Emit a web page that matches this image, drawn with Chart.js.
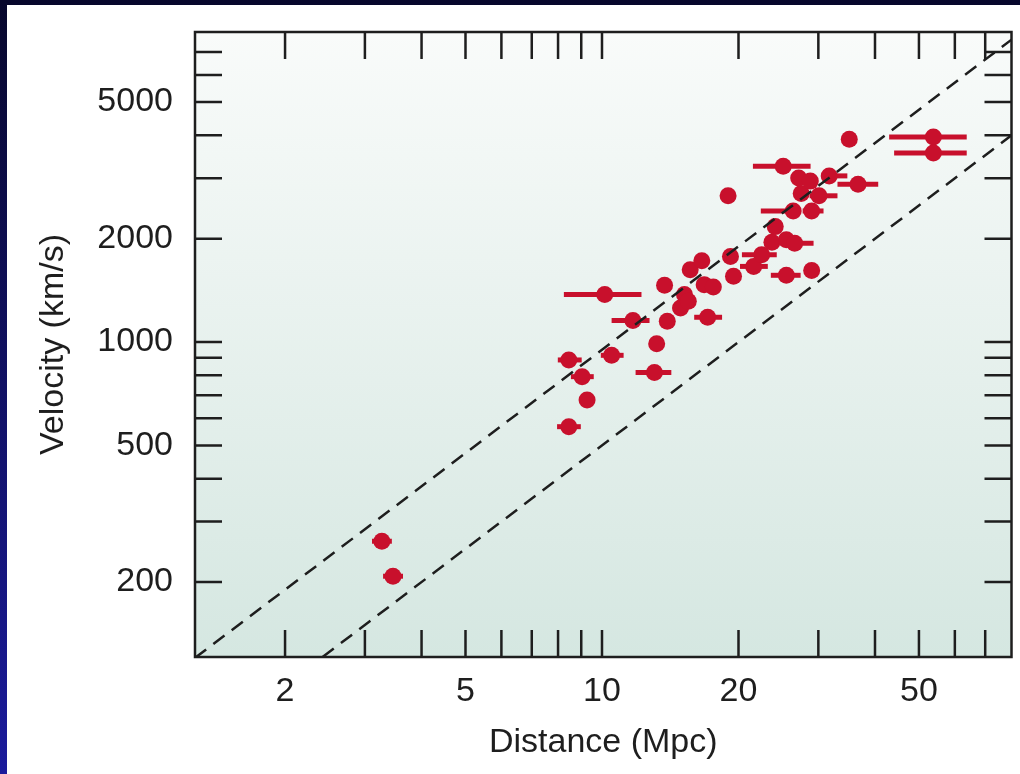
<!DOCTYPE html>
<html>
<head>
<meta charset="utf-8">
<script src="https://cdn.jsdelivr.net/npm/chart.js@4.4.1/dist/chart.umd.min.js"></script>
<style>
  html, body { margin: 0; padding: 0; }
  body {
    width: 1020px; height: 774px; overflow: hidden; position: relative;
    background: linear-gradient(#07072c, #1b1b9c);
  }
  #panel { position: absolute; left: 7px; top: 5px; width: 1013px; height: 769px; background: #fff; }
  canvas { display: block; }
</style>
</head>
<body>
<div id="panel"><canvas id="hubble" width="1013" height="769"></canvas></div>
<script>
// galaxy distances (Mpc) and recession velocities (km/s)
const distance = [3.27, 3.46, 8.45, 9.27, 9.04, 8.45, 10.5, 13.05, 13.2, 13.93,
                  11.7, 10.14, 13.74, 14.9, 15.2, 15.5, 16.8, 17.6, 17.1, 15.65,
                  16.6, 18.97, 19.2, 19.5, 21.6, 22.5, 23.7, 25.5, 26.6, 24.1,
                  25.5, 29.0, 26.4, 29.0, 27.5, 30.1, 27.15, 28.8, 31.7, 36.7,
                  25.1, 35.1, 53.8, 53.8];
const velocity = [263, 208, 567, 678, 793, 887, 915, 815, 989, 1150,
                  1156, 1375, 1463, 1257, 1375, 1315, 1470, 1446, 1181, 1624,
                  1725, 2667, 1775, 1554, 1661, 1796, 1953, 1985, 1940, 2169,
                  1565, 1617, 2409, 2409, 2709, 2667, 3007, 2943, 3048, 2884,
                  3251, 3894, 3955, 3554];
// horizontal error bar ends (null = no bar)
const distLow = [3.11, 3.29, 7.96, null, 8.54, 7.99, 9.94, 11.86, null, null,
                 10.5, 8.24, null, null, null, null, null, null, 15.97, null,
                 null, null, null, null, 20.15, 20.35, null, null, 25.16, null,
                 23.57, null, 22.4, 27.7, null, 28.7, null, null, 30.64, 33.06,
                 21.52, null, 42.98, 44.08];
const distHigh = [3.44, 3.64, 8.98, null, 9.59, 9.02, 11.16, 14.22, null, null,
                  12.73, 12.22, null, null, null, null, null, null, 18.4, null,
                  null, null, null, null, 23.21, 24.29, null, null, 29.28, null,
                  27.42, null, 27.42, 30.8, null, 33.06, null, null, 34.76, 40.66,
                  28.84, null, 63.73, 63.73];

const X_MIN = 1.266, X_MAX = 80;
const Y_MIN = 121, Y_MAX = 8000;
const xLabels = [2, 5, 10, 20, 50];
const yLabels = [200, 500, 1000, 2000, 5000];
const xMinor = [2, 3, 4, 5, 6, 7, 8, 9, 10, 20, 30, 40, 50, 60, 70];
const yMinor = [200, 300, 400, 500, 600, 700, 800, 900, 1000, 2000, 3000, 4000, 5000, 6000, 7000];
// dashed reference lines V = H * d
const hubbleUpper = 95;
const hubbleLower = 50;

const RED = '#c8102c';
const INK = '#1e1e1e';
const FONT = "'Liberation Sans', Arial, Helvetica, sans-serif";

const points = distance.map((d, i) => ({ x: d, y: velocity[i], lo: distLow[i], hi: distHigh[i] }));
const upperLine = [{ x: X_MIN, y: hubbleUpper * X_MIN }, { x: X_MAX, y: hubbleUpper * X_MAX }];
const lowerLine = [{ x: Y_MIN / hubbleLower, y: Y_MIN }, { x: X_MAX, y: hubbleLower * X_MAX }];

const panelBg = {
  id: 'panelBg',
  beforeDraw(chart) {
    const { ctx, chartArea: a } = chart;
    const g = ctx.createLinearGradient(0, a.top, 0, a.bottom);
    g.addColorStop(0, '#f9fbfa');
    g.addColorStop(1, '#d5e7e1');
    ctx.save();
    ctx.fillStyle = g;
    ctx.fillRect(a.left, a.top, a.right - a.left, a.bottom - a.top);
    ctx.restore();
  }
};

const errorBars = {
  id: 'errorBars',
  beforeDatasetDraw(chart, args) {
    if (args.index !== 2) return;
    const { ctx, scales: { x, y } } = chart;
    ctx.save();
    ctx.strokeStyle = RED;
    ctx.lineWidth = 5;
    points.forEach(p => {
      if (p.lo == null) return;
      const py = y.getPixelForValue(p.y);
      ctx.beginPath();
      ctx.moveTo(x.getPixelForValue(p.lo), py);
      ctx.lineTo(x.getPixelForValue(p.hi), py);
      ctx.stroke();
    });
    ctx.restore();
  }
};

const frameTicks = {
  id: 'frameTicks',
  afterDatasetsDraw(chart) {
    const { ctx, chartArea: a, scales: { x, y } } = chart;
    const len = 27;
    ctx.save();
    ctx.strokeStyle = INK;
    ctx.lineWidth = 2.5;
    ctx.beginPath();
    xMinor.forEach(v => {
      const px = x.getPixelForValue(v);
      ctx.moveTo(px, a.bottom); ctx.lineTo(px, a.bottom - len);
      ctx.moveTo(px, a.top); ctx.lineTo(px, a.top + len);
    });
    yMinor.forEach(v => {
      const py = y.getPixelForValue(v);
      ctx.moveTo(a.left, py); ctx.lineTo(a.left + len, py);
      ctx.moveTo(a.right, py); ctx.lineTo(a.right - len, py);
    });
    ctx.stroke();
    ctx.strokeRect(a.left, a.top, a.right - a.left, a.bottom - a.top);
    ctx.restore();
  }
};

new Chart(document.getElementById('hubble'), {
  type: 'scatter',
  data: {
    datasets: [
      { data: upperLine, showLine: true, borderColor: INK, borderWidth: 2.5, borderDash: [14, 9], pointRadius: 0 },
      { data: lowerLine, showLine: true, borderColor: INK, borderWidth: 2.5, borderDash: [14, 9], pointRadius: 0 },
      { data: points, backgroundColor: RED, borderWidth: 0, pointRadius: 8.5, pointHoverRadius: 8.5 }
    ]
  },
  options: {
    responsive: false,
    animation: false,
    events: [],
    layout: { padding: { top: 27, right: 5, left: 0, bottom: 0 } },
    plugins: { legend: { display: false }, tooltip: { enabled: false } },
    scales: {
      x: {
        type: 'logarithmic', position: 'bottom', min: X_MIN, max: X_MAX,
        afterFit: s => { s.height = 117; s.paddingLeft = 0; s.paddingRight = 0; },
        afterBuildTicks: s => { s.ticks = xLabels.map(v => ({ value: v })); },
        grid: { display: false, drawTicks: false },
        border: { display: false },
        ticks: {
          autoSkip: false, maxRotation: 0, padding: 14, color: INK,
          font: { family: FONT, size: 34 },
          callback: v => String(v)
        },
        title: {
          display: true, text: 'Distance (Mpc)', color: INK,
          font: { family: FONT, size: 34 }, padding: { top: 0, bottom: 11 }
        }
      },
      y: {
        type: 'logarithmic', position: 'left', min: Y_MIN, max: Y_MAX,
        afterFit: s => { s.width = 188; s.paddingTop = 0; s.paddingBottom = 0; },
        afterBuildTicks: s => { s.ticks = yLabels.map(v => ({ value: v })); },
        grid: { display: false, drawTicks: false },
        border: { display: false },
        ticks: {
          autoSkip: false, padding: 22, color: INK,
          font: { family: FONT, size: 34 },
          callback: v => String(v)
        },
        title: {
          display: true, text: 'Velocity (km/s)', color: INK,
          font: { family: FONT, size: 34 }, padding: { top: 26, bottom: 0 }
        }
      }
    }
  },
  plugins: [panelBg, errorBars, frameTicks]
});
</script>
</body>
</html>
